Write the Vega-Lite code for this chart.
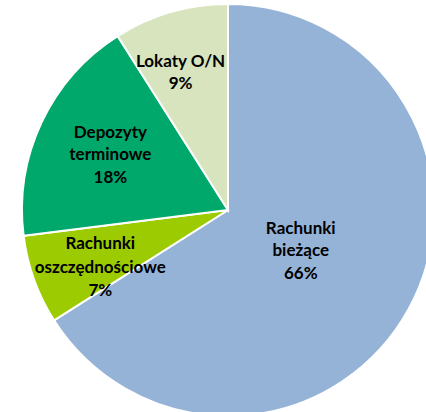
{
  "$schema": "https://vega.github.io/schema/vega-lite/v6.json",
  "width": 426,
  "height": 412,
  "autosize": "none",
  "padding": 0,
  "background": "white",
  "view": {"stroke": null},
  "data": {
    "values": [
      {"cat": "Rachunki bieżące", "label": "Rachunki\nbieżące\n66%", "value": 66, "o": 1},
      {"cat": "Rachunki oszczędnościowe", "label": "Rachunki\noszczędnościowe\n7%", "value": 7, "o": 2},
      {"cat": "Depozyty terminowe", "label": "Depozyty\nterminowe\n18%", "value": 18, "o": 3},
      {"cat": "Lokaty O/N", "label": "Lokaty O/N\n9%", "value": 9, "o": 4}
    ]
  },
  "encoding": {
    "theta": {"field": "value", "type": "quantitative", "stack": true},
    "order": {"field": "o", "type": "quantitative"}
  },
  "layer": [
    {
      "mark": {"type": "arc", "x": 228, "y": 210, "outerRadius": 206, "stroke": "white", "strokeWidth": 2},
      "encoding": {
        "color": {
          "field": "cat",
          "type": "nominal",
          "legend": null,
          "scale": {
            "domain": ["Rachunki bieżące", "Rachunki oszczędnościowe", "Depozyty terminowe", "Lokaty O/N"],
            "range": ["#95B3D7", "#9BCB00", "#00A86B", "#D7E4BD"]
          }
        }
      }
    },
    {
      "mark": {"type": "text", "x": 228, "y": 210, "radius": 83, "dy": -21, "lineBreak": "\n", "font": "Lato", "fontWeight": "bold", "fontSize": 17, "lineHeight": 22.5, "align": "center", "baseline": "middle", "color": "black"},
      "encoding": {"text": {"condition": {"test": "datum.cat == 'Rachunki bieżące'", "field": "label"}, "value": ""}}
    },
    {
      "mark": {"type": "text", "x": 228, "y": 210, "radius": 140, "dx": 4, "dy": -13, "lineBreak": "\n", "font": "Lato", "fontWeight": "bold", "fontSize": 17, "lineHeight": 23.5, "align": "center", "baseline": "middle", "color": "black"},
      "encoding": {"text": {"condition": {"test": "datum.cat == 'Rachunki oszczędnościowe'", "field": "label"}, "value": ""}}
    },
    {
      "mark": {"type": "text", "x": 228, "y": 210, "radius": 130, "dy": -22, "lineBreak": "\n", "font": "Lato", "fontWeight": "bold", "fontSize": 17, "lineHeight": 22.5, "align": "center", "baseline": "middle", "color": "black"},
      "encoding": {"text": {"condition": {"test": "datum.cat == 'Depozyty terminowe'", "field": "label"}, "value": ""}}
    },
    {
      "mark": {"type": "text", "x": 228, "y": 210, "radius": 145, "dx": -7, "dy": -9, "lineBreak": "\n", "font": "Lato", "fontWeight": "bold", "fontSize": 17, "lineHeight": 22.5, "align": "center", "baseline": "middle", "color": "black"},
      "encoding": {"text": {"condition": {"test": "datum.cat == 'Lokaty O/N'", "field": "label"}, "value": ""}}
    }
  ]
}
